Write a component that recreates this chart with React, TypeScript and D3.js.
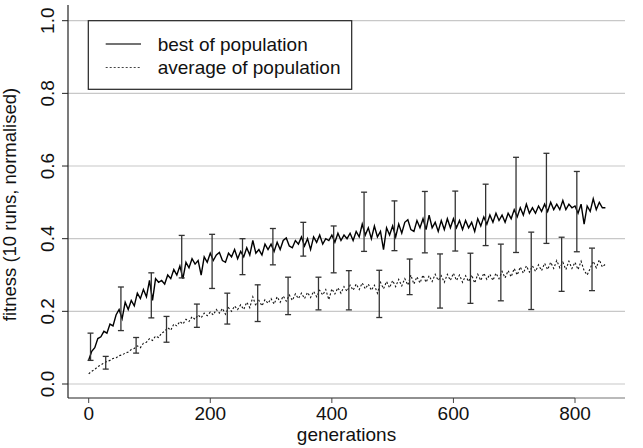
import * as d3 from 'd3';
import { useEffect, useRef } from 'react';

// generations sampled every 5 steps (0..850)
const step = 5;

// best of population
const bestValues = [
  0.066, 0.09, 0.10, 0.125, 0.13, 0.145, 0.14, 0.165, 0.16, 0.19,
  0.205, 0.18, 0.225, 0.205, 0.23, 0.215, 0.25, 0.235, 0.26, 0.24,
  0.285, 0.23, 0.29, 0.28, 0.285, 0.275, 0.30, 0.29, 0.315, 0.30,
  0.325, 0.29, 0.335, 0.32, 0.345, 0.33, 0.34, 0.30, 0.35, 0.335,
  0.36, 0.34, 0.355, 0.362, 0.34, 0.335, 0.36, 0.35, 0.37, 0.345,
  0.365, 0.35, 0.375, 0.355, 0.395, 0.36, 0.37, 0.355, 0.385, 0.37,
  0.385, 0.365, 0.39, 0.37, 0.395, 0.402, 0.38, 0.375, 0.395, 0.385,
  0.405, 0.38, 0.40, 0.37, 0.405, 0.39, 0.41, 0.385, 0.40, 0.395,
  0.41, 0.39, 0.415, 0.395, 0.41, 0.40, 0.415, 0.395, 0.42, 0.405,
  0.44, 0.41, 0.43, 0.40, 0.435, 0.405, 0.42, 0.37, 0.43, 0.41,
  0.435, 0.405, 0.44, 0.415, 0.445, 0.452, 0.425, 0.42, 0.45, 0.43,
  0.455, 0.425, 0.465, 0.43, 0.445, 0.42, 0.45, 0.425, 0.455, 0.43,
  0.455, 0.43, 0.45, 0.425, 0.45, 0.43, 0.445, 0.42, 0.455, 0.435,
  0.46, 0.44, 0.465, 0.445, 0.47, 0.45, 0.465, 0.445, 0.47, 0.455,
  0.48, 0.46, 0.485, 0.465, 0.495, 0.47, 0.485, 0.47, 0.49, 0.475,
  0.495, 0.475, 0.50, 0.48, 0.495, 0.48, 0.505, 0.48, 0.495, 0.485,
  0.49, 0.47, 0.495, 0.44, 0.49, 0.475, 0.51, 0.48, 0.50, 0.485,
  0.485,
];

// average of population
const avgValues = [
  0.028, 0.035, 0.04, 0.048, 0.052, 0.058, 0.062, 0.065, 0.07, 0.072,
  0.078, 0.08, 0.085, 0.088, 0.095, 0.098, 0.105, 0.10, 0.112, 0.115,
  0.125, 0.12, 0.132, 0.128, 0.14, 0.145, 0.155, 0.148, 0.165, 0.16,
  0.172, 0.165, 0.178, 0.172, 0.185, 0.178, 0.19, 0.182, 0.195, 0.188,
  0.198, 0.19, 0.205, 0.195, 0.208, 0.192, 0.21, 0.2, 0.215, 0.205,
  0.218, 0.205, 0.225, 0.21, 0.24, 0.215, 0.23, 0.215, 0.232, 0.222,
  0.235, 0.22, 0.24, 0.225, 0.242, 0.228, 0.245, 0.23, 0.248, 0.235,
  0.25, 0.235, 0.252, 0.238, 0.255, 0.24, 0.258, 0.245, 0.26, 0.232,
  0.262, 0.248, 0.265, 0.25, 0.268, 0.255, 0.272, 0.258, 0.275, 0.26,
  0.278, 0.262, 0.275, 0.258, 0.272, 0.25, 0.28, 0.262, 0.282, 0.265,
  0.285, 0.268, 0.288, 0.27, 0.29, 0.272, 0.30, 0.275, 0.295, 0.278,
  0.30, 0.28, 0.298, 0.282, 0.302, 0.285, 0.298, 0.28, 0.302, 0.285,
  0.305, 0.285, 0.30, 0.28, 0.298, 0.282, 0.30, 0.278, 0.302, 0.285,
  0.305, 0.288, 0.302, 0.285, 0.305, 0.29, 0.31, 0.292, 0.312, 0.295,
  0.318, 0.3, 0.322, 0.305, 0.325, 0.308, 0.325, 0.31, 0.328, 0.312,
  0.332, 0.315, 0.335, 0.318, 0.34, 0.32, 0.335, 0.315, 0.338, 0.318,
  0.335, 0.315, 0.338, 0.312, 0.30, 0.318, 0.338, 0.32, 0.342, 0.322,
  0.33,
];

// error bars
const bestBarGen = [3, 53, 103, 153, 203, 253, 303, 353, 403, 453, 503, 553, 603, 653, 703, 753, 803];
const bestBarHi = [0.140, 0.267, 0.306, 0.409, 0.412, 0.400, 0.428, 0.445, 0.435, 0.528, 0.504, 0.530, 0.531, 0.550, 0.624, 0.635, 0.585];
const bestBarLo = [0.065, 0.147, 0.182, 0.292, 0.263, 0.301, 0.328, 0.352, 0.306, 0.365, 0.367, 0.361, 0.366, 0.381, 0.362, 0.387, 0.364];

const avgBarGen = [28, 78, 128, 178, 228, 278, 328, 378, 428, 478, 528, 578, 628, 678, 728, 778, 828];
const avgBarHi = [0.076, 0.128, 0.186, 0.220, 0.250, 0.273, 0.294, 0.294, 0.312, 0.313, 0.344, 0.358, 0.360, 0.385, 0.418, 0.404, 0.374];
const avgBarLo = [0.041, 0.085, 0.115, 0.156, 0.165, 0.172, 0.191, 0.204, 0.204, 0.183, 0.246, 0.209, 0.222, 0.229, 0.205, 0.255, 0.257];

const xTicks = [0, 200, 400, 600, 800];
const yTicks = [0, 0.2, 0.4, 0.6, 0.8, 1.0];

const legendLabels = ['best of population', 'average of population'];

const W = 643;
const H = 448;
const font = '"Liberation Sans", Arial, Helvetica, sans-serif';

export default function App() {
  const svgRef = useRef<SVGSVGElement>(null);

  useEffect(() => {
    document.body.style.margin = '0';
    const svg = d3.select(svgRef.current);
    svg.selectAll('*').remove();

    const left = 68, right = 625, top = 5, bottom = 398;

    const x = d3.scaleLinear().domain([0, 800]).range([88.7, 575]);
    const y = d3.scaleLinear().domain([0, 1]).range([384, 20.7]);

    // gridlines
    svg.append('g')
      .selectAll('line')
      .data(yTicks)
      .join('line')
      .attr('x1', left).attr('x2', right)
      .attr('y1', d => y(d)).attr('y2', d => y(d))
      .attr('stroke', '#c8c8c8')
      .attr('stroke-width', 1.2);

    // axes
    svg.append('line')
      .attr('x1', left).attr('x2', left).attr('y1', top).attr('y2', bottom)
      .attr('stroke', '#222').attr('stroke-width', 1.2);
    svg.append('line')
      .attr('x1', left).attr('x2', x(800)).attr('y1', bottom).attr('y2', bottom)
      .attr('stroke', '#222').attr('stroke-width', 1.2);
    svg.append('line')
      .attr('x1', x(800)).attr('x2', right).attr('y1', bottom).attr('y2', bottom)
      .attr('stroke', '#777').attr('stroke-width', 1.2);

    // y ticks + labels
    const yg = svg.append('g');
    yg.selectAll('line')
      .data(yTicks)
      .join('line')
      .attr('x1', left - 6).attr('x2', left)
      .attr('y1', d => y(d)).attr('y2', d => y(d))
      .attr('stroke', '#222');
    yg.selectAll('text')
      .data(yTicks)
      .join('text')
      .attr('transform', d => `translate(54,${y(d)}) rotate(-90)`)
      .attr('text-anchor', 'middle')
      .style('font', `19px ${font}`)
      .attr('fill', '#111')
      .text(d => d3.format('.1f')(d));

    // x ticks + labels
    const xg = svg.append('g');
    xg.selectAll('line')
      .data(xTicks)
      .join('line')
      .attr('x1', d => x(d)).attr('x2', d => x(d))
      .attr('y1', bottom).attr('y2', bottom + 5)
      .attr('stroke', '#444');
    xg.selectAll('text')
      .data(xTicks)
      .join('text')
      .attr('x', d => x(d)).attr('y', 420)
      .attr('text-anchor', 'middle')
      .style('font', `19px ${font}`)
      .attr('fill', '#111')
      .text(d => d);

    // axis titles
    svg.append('text')
      .attr('x', (left + right) / 2).attr('y', 441)
      .attr('text-anchor', 'middle')
      .style('font', `19px ${font}`)
      .attr('fill', '#111')
      .text('generations');
    svg.append('text')
      .attr('transform', `translate(16,${(top + bottom) / 2 + 3}) rotate(-90)`)
      .attr('text-anchor', 'middle')
      .style('font', `18.5px ${font}`)
      .attr('fill', '#111')
      .text('fitness (10 runs, normalised)');

    // lines
    const line = d3.line<number>()
      .x((_, i) => x(i * step))
      .y(d => y(d));

    svg.append('path')
      .datum(avgValues)
      .attr('d', line)
      .attr('fill', 'none')
      .attr('stroke', '#111')
      .attr('stroke-width', 1.1)
      .attr('stroke-dasharray', '2,2');

    svg.append('path')
      .datum(bestValues)
      .attr('d', line)
      .attr('fill', 'none')
      .attr('stroke', '#000')
      .attr('stroke-width', 1.4);

    // error bars
    const drawBars = (gens: number[], lo: number[], hi: number[]) => {
      const g = svg.append('g').attr('stroke', '#333').attr('stroke-width', 1.3);
      gens.forEach((gen, i) => {
        const cx = x(gen);
        g.append('line').attr('x1', cx).attr('x2', cx).attr('y1', y(lo[i])).attr('y2', y(hi[i]));
        g.append('line').attr('x1', cx - 3).attr('x2', cx + 3).attr('y1', y(lo[i])).attr('y2', y(lo[i]));
        g.append('line').attr('x1', cx - 3).attr('x2', cx + 3).attr('y1', y(hi[i])).attr('y2', y(hi[i]));
      });
    };
    drawBars(bestBarGen, bestBarLo, bestBarHi);
    drawBars(avgBarGen, avgBarLo, avgBarHi);

    // legend
    const lg = svg.append('g');
    lg.append('rect')
      .attr('x', 88.3).attr('y', 20.7).attr('width', 263.4).attr('height', 68.6)
      .attr('fill', '#fff').attr('stroke', '#222').attr('stroke-width', 1.2);
    const rows = [44, 67.5];
    lg.append('line').attr('x1', 105.7).attr('x2', 141).attr('y1', rows[0]).attr('y2', rows[0])
      .attr('stroke', '#444').attr('stroke-width', 1.4);
    lg.append('line').attr('x1', 105.7).attr('x2', 141).attr('y1', rows[1]).attr('y2', rows[1])
      .attr('stroke', '#444').attr('stroke-width', 1).attr('stroke-dasharray', '2,2');
    lg.selectAll('text')
      .data(legendLabels)
      .join('text')
      .attr('x', 157.7)
      .attr('y', (_, i) => rows[i] + 6.5)
      .style('font', `19px ${font}`)
      .attr('fill', '#111')
      .text(d => d);
  }, []);

  return (
    <svg ref={svgRef} width={W} height={H}
      style={{ position: 'absolute', left: 0, top: 0, background: '#fff' }} />
  );
}
